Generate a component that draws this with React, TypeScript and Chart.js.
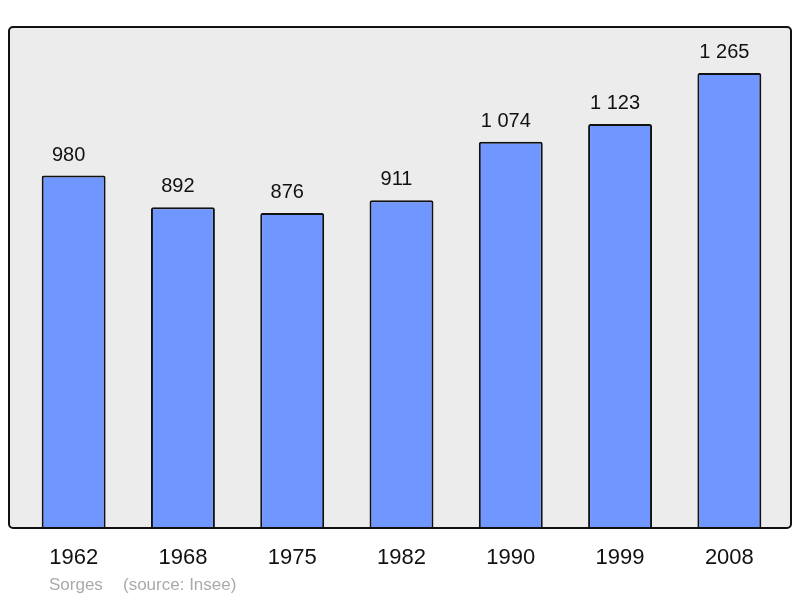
import React, { useEffect, useRef } from "react";
import { Chart, registerables } from "chart.js";

Chart.register(...registerables);

const years = ["1962", "1968", "1975", "1982", "1990", "1999", "2008"];
const population = [980, 892, 876, 911, 1074, 1123, 1265];
const commune = "Sorges";
const sourceText = "(source: Insee)";

const fmt = (v: number) => String(v).replace(/\B(?=(\d{3})+(?!\d))/g, " ");

const FONT = "'Liberation Sans', Arial, sans-serif";

const framePlugin = {
  id: "frame",
  beforeDatasetsDraw(chart: any) {
    const { ctx, chartArea } = chart;
    const x = chartArea.left - 10;
    const y = chartArea.top;
    const w = chartArea.right + 7 - x;
    const h = chartArea.bottom - y;
    ctx.save();
    ctx.beginPath();
    ctx.roundRect(x, y, w, h, 4);
    ctx.fillStyle = "#ececec";
    ctx.fill();
    ctx.restore();
  },
  afterDatasetsDraw(chart: any) {
    const { ctx, chartArea } = chart;
    const x = chartArea.left - 10;
    const y = chartArea.top;
    const w = chartArea.right + 7 - x;
    const h = chartArea.bottom - y;
    ctx.save();
    ctx.beginPath();
    ctx.roundRect(x, y, w, h, 4);
    ctx.lineWidth = 2;
    ctx.strokeStyle = "#111";
    ctx.stroke();
    // value labels
    const meta = chart.getDatasetMeta(0);
    ctx.fillStyle = "#111";
    ctx.font = `20px ${FONT}`;
    ctx.textAlign = "center";
    ctx.textBaseline = "middle";
    meta.data.forEach((bar: any, i: number) => {
      ctx.fillText(fmt(population[i]), bar.x - 5, bar.y - 20.5);
    });
    // source text
    ctx.fillStyle = "#aaaaaa";
    ctx.font = `17px ${FONT}`;
    ctx.textAlign = "left";
    ctx.fillText(commune, 49, 585);
    ctx.fillText(sourceText, 123, 585);
    ctx.restore();
  },
};

export default function App() {
  const ref = useRef<HTMLCanvasElement>(null);
  useEffect(() => {
    document.body.style.margin = "0";
    const chart = new Chart(ref.current!, {
      type: "bar",
      data: {
        labels: years,
        datasets: [
          {
            data: population,
            backgroundColor: "#7096ff",
            borderColor: "#111",
            borderWidth: 2,
            borderRadius: 2,
            borderSkipped: "bottom",
            barPercentage: 0.585,
            categoryPercentage: 1,
          },
        ],
      },
      options: {
        animation: false,
        responsive: false,
        maintainAspectRatio: false,
        layout: { padding: { left: 19, right: 16, top: 27, bottom: 0 } },
        plugins: { legend: { display: false }, tooltip: { enabled: false } },
        scales: {
          x: {
            grid: { display: false, drawTicks: false },
            border: { display: false },
            ticks: {
              color: "#111",
              font: { size: 22, family: FONT },
              padding: 17,
            },
            afterFit: (s: any) => {
              s.height = 70;
            },
          },
          y: {
            display: false,
            min: 0,
            max: 1393,
          },
        },
      },
      plugins: [framePlugin],
    });
    return () => chart.destroy();
  }, []);
  return <canvas ref={ref} width={800} height={598} style={{ display: "block" }} />;
}
